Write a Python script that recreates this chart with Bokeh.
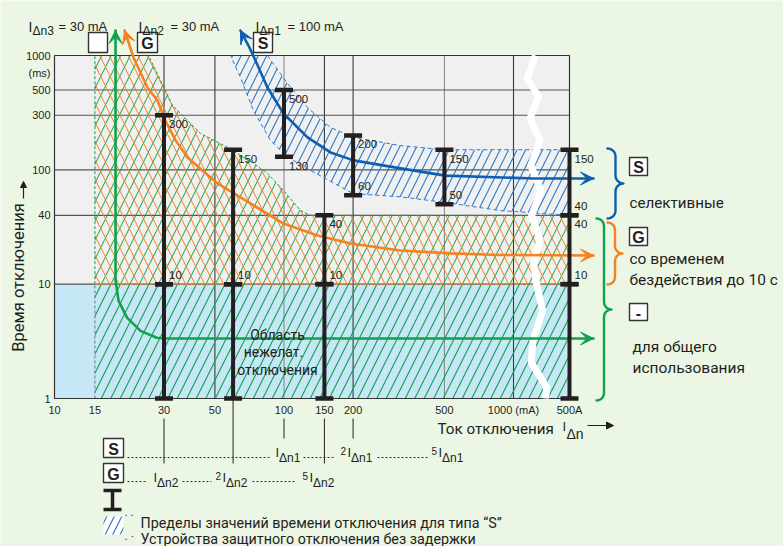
import numpy as np
from bokeh.plotting import figure
from bokeh.models import (Range1d, Whisker, TeeHead, Arrow, VeeHead, NormalHead,
                          Label, LabelSet, ColumnDataSource)
from bokeh.core.properties import value
from bokeh.embed import file_html
from bokeh.resources import INLINE

# ---------------- data (current in mA, time in ms) ----------------
X_MIN_MA = 10
X_500A = 1754            # axis position used for the "500A" tick (after the axis break)
Y_MIN_MS, Y_MAX_MS = 1, 1000

x_ticks = [10, 15, 30, 50, 100, 150, 200, 500, 1000, X_500A]
x_tick_labels = ["10", "15", "30", "50", "100", "150", "200", "500", "1000 (mA)", "500A"]
y_ticks = [1, 10, 40, 100, 300, 500, 1000]
y_tick_labels = ["1", "10", "40", "100", "300", "500", "1000"]
x_grid = [30, 50, 100, 150, 200, 500, 1000]
y_grid = [10, 40, 100, 300, 500]

# instantaneous zone (< 10 ms)
inst_ms = [1, 10]
inst_hatch_from_ma = 15

# G zone (cross-hatched)
g_zone_ma = [15, 15, 25.7, 29.0, 32.7, 38.0, 43.3, 56.8, 73.6, 84.7, 99.5, 118, 130, X_500A, X_500A]
g_zone_ms = [10, 1000, 1000, 604, 365, 270, 208, 157, 114, 93, 66, 44, 40, 40, 10]

# S band (blue hatched)
s_upper_ma = [84.7, 103.5, 126.5, 159.4, 201, 322, 500, X_500A]
s_upper_ms = [1000, 570, 351, 235, 192, 163, 150, 150]
s_lower_ma = [58.5, 64.6, 73.6, 87.3, 103.5, 130, 200, 322, 500, 877, X_500A]
s_lower_ms = [1000, 642, 330, 181, 130, 99, 62, 58, 52, 44, 40]

# characteristic curves
curve_gen_ma = [18.45, 18.45, 19.0, 20.7, 23.7, 27.9, 30.4, 2232]
curve_gen_ms = [1655, 10.8, 7.2, 5.1, 3.9, 3.4, 3.35, 3.35]
curve_g_ma = [20.2, 22.1, 25.4, 28.1, 30.4, 33.7, 38.0, 51.3, 71.4, 99.5, 140, 195, 322, 531, 878, 2232]
curve_g_ms = [1655, 961, 525, 404, 270, 181, 128, 76, 50.8, 33.9, 26.7, 22.7, 19.7, 18.6, 18.0, 17.8]
curve_s_ma = [64.6, 70.0, 75.1, 84.7, 99.5, 126.6, 159.5, 200.9, 322, 505, 1222, 2232]
curve_s_ms = [1655, 1223, 904, 525, 311, 192, 142, 121, 103, 89, 84, 84]

# tripping-time limit bars
bar_base = [30, 30, 60, 60, 100, 150, 150, 200, 500, X_500A, X_500A, X_500A]
bar_lower = [1, 10, 1, 10, 130, 1, 10, 60, 50, 1, 10, 40]
bar_upper = [10, 300, 10, 150, 500, 10, 40, 200, 150, 10, 40, 150]

bar_lbl_ma = [30, 30, 60, 60, 100, 100, 150, 150, 200, 200, 500, 500, X_500A, X_500A, X_500A, X_500A]
bar_lbl_ms = [300, 10, 150, 10, 500, 130, 40, 10, 200, 60, 150, 50, 150, 40, 40, 10]
bar_lbl_side = ["below", "above", "below", "above", "below", "below", "below", "above",
                "below", "above", "below", "above", "below", "above", "below", "above"]

# axis break (white squiggle)
break_ma = [1247, 1150, 1285, 1180, 1305, 1190, 1318, 1200, 1305, 1222, 1265, 1340, 1215, 1195, 1395, 1379]
break_ms = [1000, 629, 438, 281, 181, 109, 66, 39.9, 24.1, 15.5, 9.7, 5.9, 3.2, 2.06, 1.25, 1]

# lines that lead from the axis to the legend rows
lead_ma = [30, 60, 100, 150, 200]

# ---------------- styling ----------------
FONT = "Liberation Sans"
TXT = "Roboto"
DARK = "#231F20"
GREEN = "#10A24A"
ORANGE = "#F5821F"
BLUE = "#0E5EB2"
HBLUE = "#2E78CC"
BG = "#ECF6E5"
PLOT_BG = "#F0F0F0"
LBLUE = "#C6E7F6"
x_grid_colors = ["#3a3a3a", "#3a3a3a", "#8a8a8a", "#3a3a3a", "#3a3a3a", "#8a8a8a", "#3a3a3a"]
W, H = 783, 546


# page-pixel helpers for layout of decorations / texts (reference picture coordinates)
def X(px):
    return 10 ** (1 + (px - 54) / 229.5)


def Y(py):
    return 10 ** ((398 - py) / 114.33)


p = figure(width=W, height=H, x_axis_type="log", y_axis_type="log",
           x_range=Range1d(X(0), X(W)), y_range=Range1d(Y(H), Y(0)),
           output_backend="svg", toolbar_location=None,
           x_axis_location=None, y_axis_location=None,
           min_border=0, min_border_left=0, min_border_right=0,
           min_border_top=0, min_border_bottom=0)
p.background_fill_color = BG
p.border_fill_color = BG
p.outline_line_color = None
p.grid.visible = False


def label(px, py, text, size=15.5, font=TXT, align="left", baseline="middle",
          color=DARK, bold=False, angle=0.0):
    p.add_layout(Label(x=X(px), y=Y(py), text=text, text_font=font,
                       text_font_size=f"{size}px", text_align=align,
                       text_baseline=baseline, text_color=color,
                       text_font_style="bold" if bold else "normal", angle=angle))


def head(x0, y0, x1, y1, color, size=13):
    p.add_layout(Arrow(x_start=x0, y_start=y0, x_end=x1, y_end=y1, line_alpha=0,
                       end=VeeHead(size=size, fill_color=color, line_color=color, line_width=1)))


def box(px0, py0, px1, py1, letter=None):
    p.quad(left=X(px0), right=X(px1), top=Y(py0), bottom=Y(py1),
           fill_color="white", line_color="#333333", line_width=1.4)
    if letter:
        label((px0 + px1) / 2, (py0 + py1) / 2 + 1, letter, 16, FONT, align="center", bold=True)


def brace(x0, x1, yt, yb, color, n=8):
    xm = (x0 + x1) / 2
    r1, r2 = xm - x0, x1 - xm
    ym = (yt + yb) / 2
    t = np.linspace(0, np.pi / 2, n + 1)
    pts = []
    pts += list(zip(x0 + r1 * np.sin(t), yt + r1 - r1 * np.cos(t)))
    pts += list(zip(x1 - r2 * np.cos(t), ym - r2 + r2 * np.sin(t)))
    pts += list(zip(x1 - r2 * np.sin(t), ym + r2 - r2 * np.cos(t)))
    pts += list(zip(x0 + r1 * np.cos(t), yb - r1 + r1 * np.sin(t)))
    p.line([X(a) for a, b in pts], [Y(b) for a, b in pts], line_color=color,
           line_width=2.4, line_join="round", line_cap="round")


# ---------------- plot area ----------------
p.quad(left=X_MIN_MA, right=X_500A, bottom=Y_MIN_MS, top=Y_MAX_MS,
       fill_color=PLOT_BG, line_color=None, level="image")
p.quad(left=X_MIN_MA, right=X_500A, bottom=inst_ms[0], top=inst_ms[1],
       fill_color=LBLUE, line_color=None, level="image")

# grid
p.segment(x0=x_grid, y0=[Y_MIN_MS] * len(x_grid), x1=x_grid, y1=[Y_MAX_MS] * len(x_grid),
          line_color=x_grid_colors, line_width=1.1)
p.segment(x0=[X_MIN_MA] * len(y_grid), y0=y_grid, x1=[X_500A] * len(y_grid), y1=y_grid,
          line_color="#555555", line_width=1.1)

# zones
p.quad(left=inst_hatch_from_ma, right=X_500A, bottom=inst_ms[0], top=inst_ms[1],
       fill_color=None, line_color=None, hatch_pattern="/", hatch_color=GREEN,
       hatch_scale=19, hatch_weight=1.1)
p.segment(x0=[inst_hatch_from_ma], y0=[inst_ms[0]], x1=[inst_hatch_from_ma], y1=[inst_ms[1]],
          line_color="#777777", line_width=1, line_dash="3 2")

p.patch(g_zone_ma, g_zone_ms, fill_color=None, line_color=None,
        hatch_pattern="/", hatch_color=GREEN, hatch_scale=19, hatch_weight=1.0)
p.patch(g_zone_ma, g_zone_ms, fill_color=None, line_color=None,
        hatch_pattern="\\", hatch_color=ORANGE, hatch_scale=19, hatch_weight=1.0)
p.line(g_zone_ma[:-1], g_zone_ms[:-1], line_color=GREEN, line_width=1, line_dash="3 2")
p.line([g_zone_ma[0], g_zone_ma[-1]], [g_zone_ms[0], g_zone_ms[-1]],
       line_color=ORANGE, line_width=1.2, line_dash="3 2")

s_band_ma = s_upper_ma + s_lower_ma[::-1]
s_band_ms = s_upper_ms + s_lower_ms[::-1]
p.patch(s_band_ma, s_band_ms, fill_color=None, line_color=HBLUE, line_width=1,
        line_dash="4 3", hatch_pattern="/", hatch_color=HBLUE, hatch_scale=17, hatch_weight=1.1)

# frame border and axis break
p.quad(left=X_MIN_MA, right=X_500A, bottom=Y_MIN_MS, top=Y_MAX_MS,
       fill_color=None, line_color="#333333", line_width=1.2)
p.line(break_ma, break_ms, line_color="white", line_width=7, line_join="round")

# tick labels (positioned through the plot scales)
p.text(x=x_ticks, y=[Y(409)] * len(x_ticks), text=x_tick_labels, text_font=value(FONT),
       text_font_size="11px", text_align="center", text_baseline="middle", text_color=DARK)
p.text(x=[X(50)] * len(y_ticks), y=y_ticks, text=y_tick_labels, text_font=value(FONT),
       text_font_size="11px", text_align="right", text_baseline="middle", text_color=DARK)
label(50, 72, "(ms)", 11, FONT, align="right")

# ---------------- characteristic curves ----------------
for xs, ys, col in ((curve_gen_ma, curve_gen_ms, GREEN),
                    (curve_g_ma, curve_g_ms, ORANGE),
                    (curve_s_ma, curve_s_ms, BLUE)):
    p.line(xs, ys, line_color=col, line_width=2.6, line_join="round", line_cap="round")
    head(xs[1], ys[1], xs[0], ys[0], col)
    head(xs[-2], ys[-2], xs[-1], ys[-1], col)

# ---------------- limit bars ----------------
bars = ColumnDataSource(dict(base=bar_base, lower=bar_lower, upper=bar_upper))
p.add_layout(Whisker(source=bars, base="base", lower="lower", upper="upper", dimension="height",
                     level="annotation", line_width=4, line_color=DARK,
                     upper_head=TeeHead(size=18, line_width=4.5, line_color=DARK),
                     lower_head=TeeHead(size=18, line_width=4.5, line_color=DARK)))

dxf = 10 ** (5 / 229.5)
dyf = 10 ** (9 / 114.33)
lbl = ColumnDataSource(dict(
    x=[v * dxf for v in bar_lbl_ma],
    y=[v / dyf if s == "below" else v * dyf for v, s in zip(bar_lbl_ms, bar_lbl_side)],
    text=[str(v) for v in bar_lbl_ms]))
p.add_layout(LabelSet(source=lbl, x="x", y="y", text="text", text_font=value(FONT),
                      text_font_size="11.5px", text_baseline="middle", text_align="left",
                      text_color=DARK, level="annotation"))

# ---------------- texts around the plot ----------------
for px, sub, rest, rx in ((28, "Δn3", "= 30 mA", 58), (138, "Δn2", "= 30 mA", 170),
                          (255, "Δn1", "= 100 mA", 287)):
    label(px, 26, "I", 14, FONT, baseline="alphabetic")
    label(px + 4, 30, sub, 12, FONT, baseline="alphabetic")
    label(rx, 26, rest, 13, FONT, baseline="alphabetic")
box(88, 32, 107, 52)
box(137, 32, 157, 52, "G")
box(253, 32, 272, 52, "S")

label(18, 277, "Время отключения", 16.5, align="center", angle=np.pi / 2)
p.add_layout(Arrow(x_start=X(23), y_start=Y(198), x_end=X(23), y_end=Y(181), line_color=DARK,
                   line_width=1.2, end=NormalHead(size=6, fill_color=DARK, line_color=DARK)))
label(437, 428, "Ток отключения", 15.2)
label(562, 426, "I", 13, FONT, baseline="alphabetic")
label(566, 433, "Δn", 14, FONT, baseline="alphabetic")
p.add_layout(Arrow(x_start=X(587), y_start=Y(425), x_end=X(613), y_end=Y(425), line_color=DARK,
                   line_width=1.2, end=NormalHead(size=7, fill_color=DARK, line_color=DARK)))

label(277, 334, "Область", 14, align="center")
label(273, 351, "нежелат.", 14, align="center")
label(277, 369, "отключения", 14, align="center")

# right-hand legend
brace(607, 623, 148, 218, BLUE)
brace(607, 622, 222, 284, ORANGE)
brace(596, 611, 218, 400, GREEN)
box(629, 157, 647, 175, "S")
box(629, 227, 647, 245, "G")
box(629, 303, 647, 320, "-")
label(629, 202, "селективные", 15.2)
label(629, 258, "со временем")
label(629, 279, "бездействия до 10 с")
label(632, 346, "для общего")
label(632, 367, "использования")

# lead lines from the axis to the legend rows
lead_top = [418, 398, 418, 418, 418]
lead_bot = [463, 463, 438, 463, 438]
p.segment(x0=lead_ma, y0=[Y(v) for v in lead_top], x1=lead_ma, y1=[Y(v) for v in lead_bot],
          line_color=DARK, line_width=1)

# multiples rows
box(103, 438, 123, 457, "S")
box(103, 463, 123, 482, "G")
s_dots = [(127, 270), (303, 333), (377, 427)]
g_dots = [(127, 147), (182, 211), (252, 295)]
p.segment(x0=[X(a) for a, b in s_dots], x1=[X(b) for a, b in s_dots], y0=[Y(457)] * 3,
          y1=[Y(457)] * 3, line_color="#333333", line_width=1, line_dash="2 2")
p.segment(x0=[X(a) for a, b in g_dots], x1=[X(b) for a, b in g_dots], y0=[Y(481)] * 3,
          y1=[Y(481)] * 3, line_color="#333333", line_width=1, line_dash="2 2")


def i_label(px, base, sub, pre=None):
    x = px
    if pre:
        label(x, base - 2, pre, 10, FONT, baseline="alphabetic")
        x += 7
    label(x, base, "I", 13, FONT, baseline="alphabetic")
    label(x + 3.5, base + 5, sub, 12, FONT, baseline="alphabetic")


i_label(275, 452, "Δn1")
i_label(340, 452, "Δn1", "2")
i_label(431, 452, "Δn1", "5")
i_label(153, 477, "Δn2")
i_label(215, 477, "Δn2", "2")
i_label(302, 477, "Δn2", "5")

# symbol legend
p.segment(x0=[X(103), X(112), X(103)], y0=[Y(490), Y(490), Y(509)],
          x1=[X(121), X(112), X(121)], y1=[Y(490), Y(509), Y(509)],
          line_color=DARK, line_width=3.5)
label(124, 511, ". .", 11, FONT, baseline="alphabetic")
label(140, 522, "Пределы значений времени отключения для типа “S”", 14.3, baseline="alphabetic")
p.quad(left=X(103), right=X(123), top=Y(516), bottom=Y(534), fill_color="white", line_color=None,
       hatch_pattern="/", hatch_color=HBLUE, hatch_scale=15, hatch_weight=1.2)
label(124, 535, ". ·", 11, FONT, baseline="alphabetic")
label(140, 538, "Устройства защитного отключения без задержки", 14.3, baseline="alphabetic")

open("out.html", "w").write(file_html(p, INLINE))
